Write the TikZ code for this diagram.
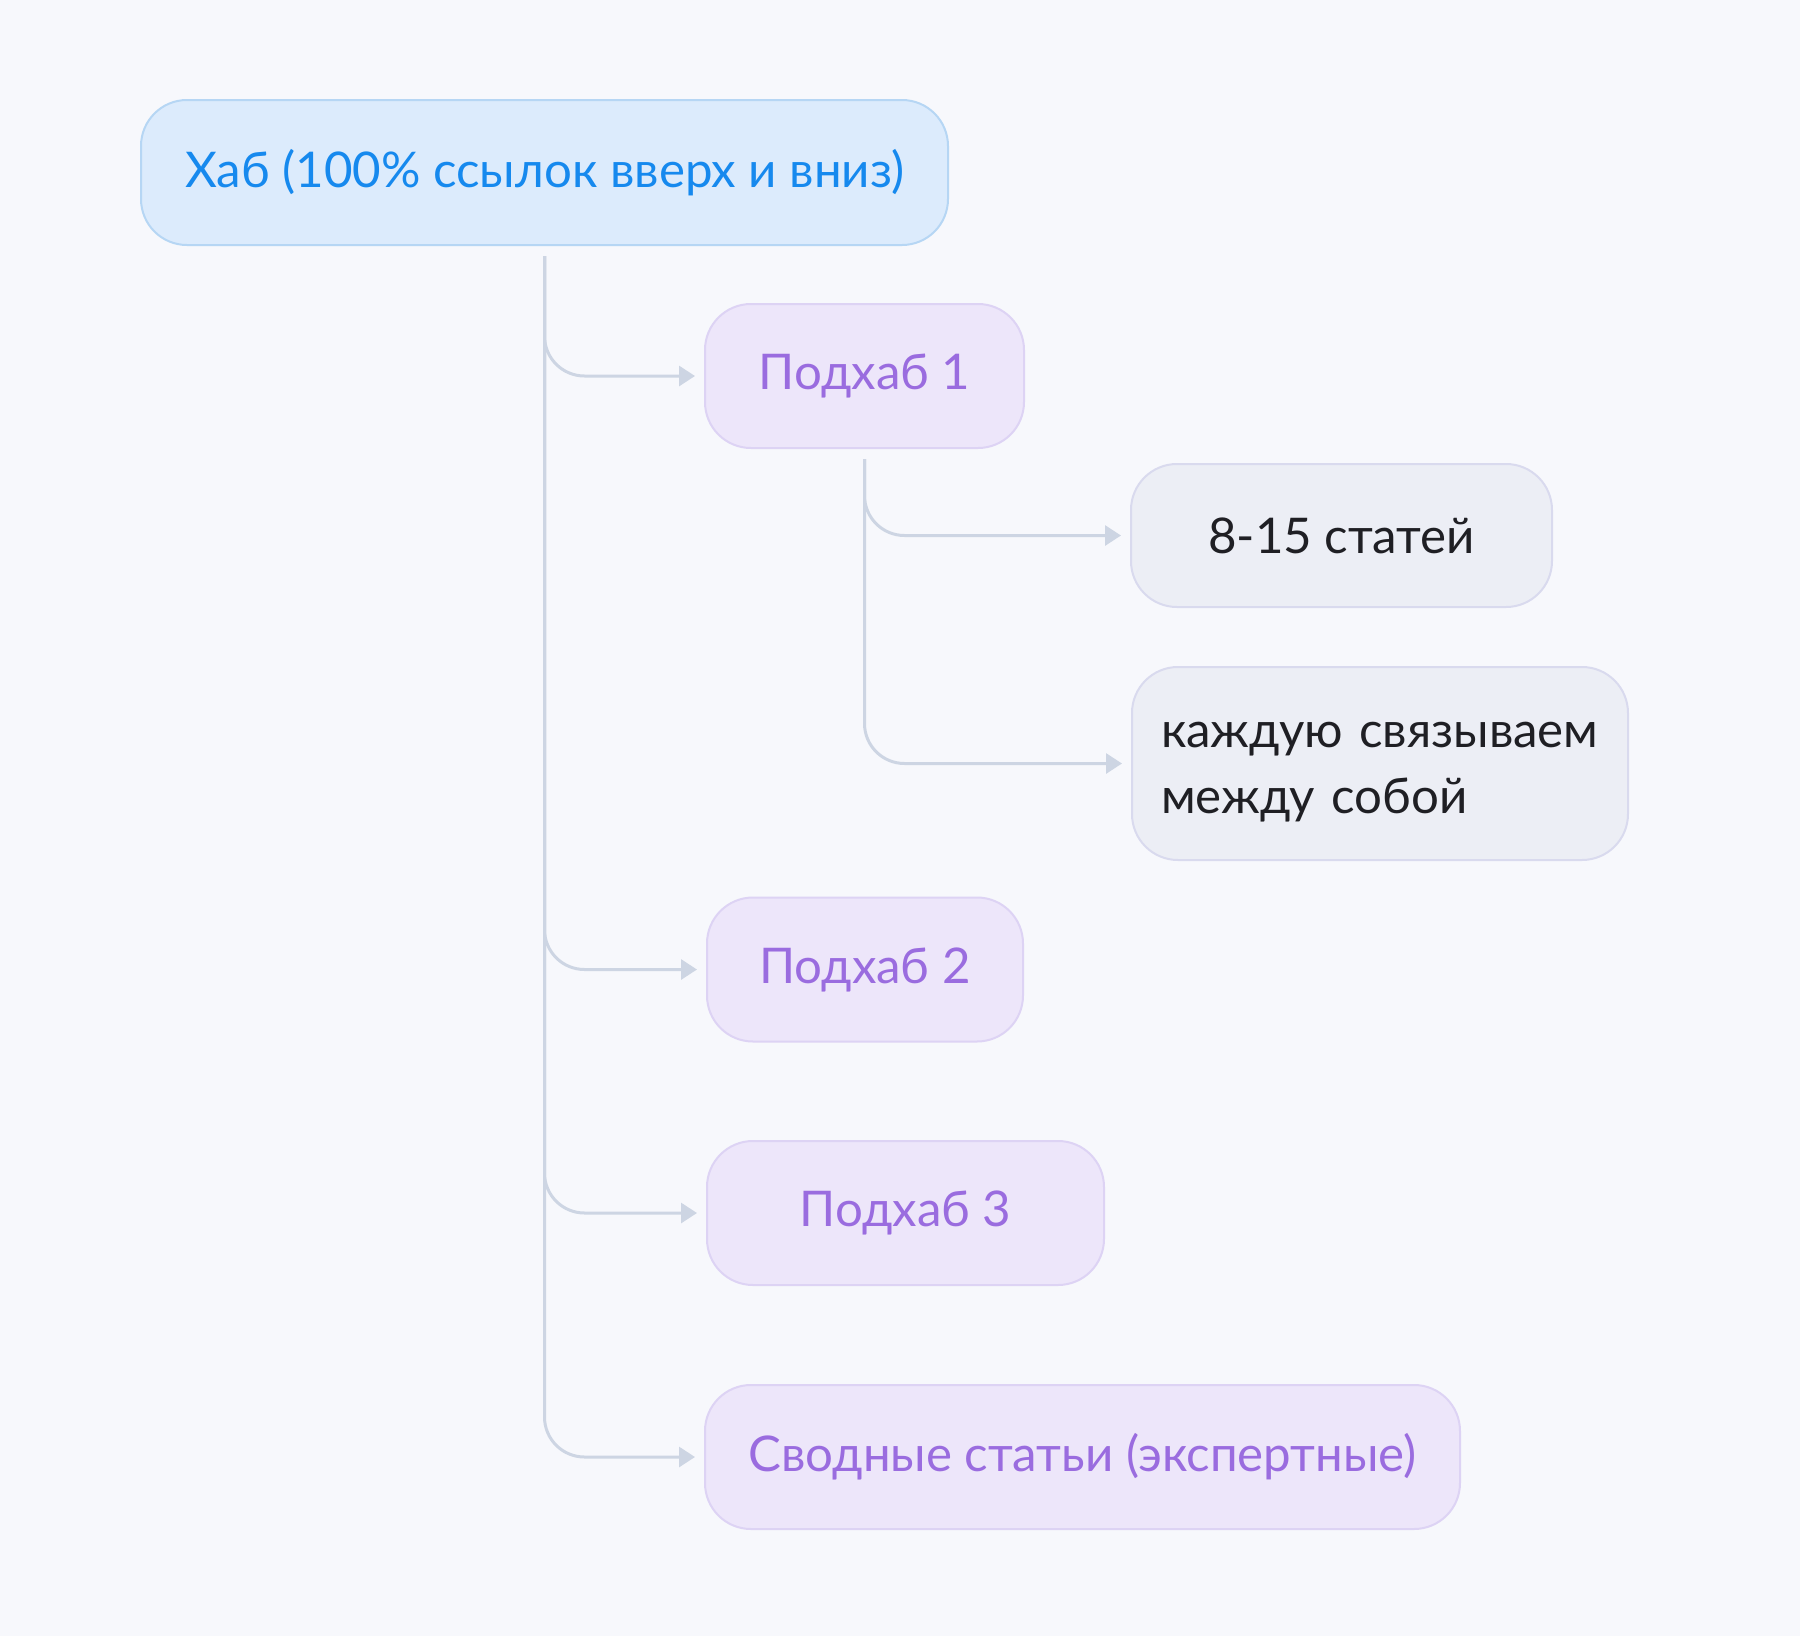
\documentclass[tikz,border=0pt]{standalone}
\usepackage{fontspec}
\setmainfont{Lato}
\usetikzlibrary{positioning,arrows.meta}

\definecolor{bgpage}{HTML}{F7F8FC}
\definecolor{hubfill}{HTML}{DCEBFC}
\definecolor{hubline}{HTML}{B6D6F4}
\definecolor{hubtext}{HTML}{1689EE}
\definecolor{subfill}{HTML}{EDE6FA}
\definecolor{subline}{HTML}{DDD3F4}
\definecolor{subtext}{HTML}{9A6CDF}
\definecolor{artfill}{HTML}{ECEEF5}
\definecolor{artline}{HTML}{D9DAEE}
\definecolor{arttext}{HTML}{1F1F24}
\definecolor{linkcol}{HTML}{CDD5E3}

\begin{document}
\begin{tikzpicture}[
    % Box styles
    hub/.style={rounded corners=0.46cm, draw=hubline, line width=0.02cm, fill=hubfill, text=hubtext, font=\fontsize{14}{17}\selectfont, minimum width=8.07cm, minimum height=1.45cm},
    subhub/.style={rounded corners=0.46cm, draw=subline, line width=0.02cm, fill=subfill, text=subtext, font=\fontsize{14}{17}\selectfont, minimum height=1.44cm},
    article/.style={rounded corners=0.46cm, draw=artline, line width=0.02cm, fill=artfill, text=arttext, font=\fontsize{14}{18.7}\selectfont, minimum height=1.43cm},
    % Arrow style
    link/.style={draw=linkcol, line width=0.03cm, rounded corners=0.4cm, shorten <=0.1cm, shorten >=0.09cm, -{Triangle[length=0.16cm, width=0.2cm]}}
]

% Background and page size
\fill[bgpage] (0,0) rectangle (18,-16.36);
\useasboundingbox (0,0) rectangle (18,-16.36);

% Hub on top
\node[hub] (hub) at (5.445,-1.725) {Хаб (100\% ссылок вверх и вниз)};

% Subhubs
\node[subhub, minimum width=3.19cm] (sub1) at (8.645,-3.76) {Подхаб 1};
\node[subhub, minimum width=3.16cm] (sub2) at (8.65,-9.695) {Подхаб 2};
\node[subhub, minimum width=3.97cm] (sub3) at (9.055,-12.13) {Подхаб 3};
\node[subhub, minimum width=7.55cm] (summary) at (10.825,-14.57) {Сводные статьи (экспертные)};

% Articles under Подхаб 1
\node[article, minimum width=4.21cm] (count) at (13.415,-5.355) {8-15 статей};
\node[article, minimum width=4.96cm, minimum height=1.93cm, text width=4.38cm, align=left] (linked) at (13.8,-7.635) {\rule{0pt}{0.43cm}каждую связываем\\между собой};

% Connections from hub
\foreach \target in {sub1,sub2,sub3,summary}
    \draw[link] (hub.south) |- (\target.west);

% Connections from Подхаб 1
\foreach \target in {count,linked}
    \draw[link] (sub1.south) |- (\target.west);

\end{tikzpicture}
\end{document}
